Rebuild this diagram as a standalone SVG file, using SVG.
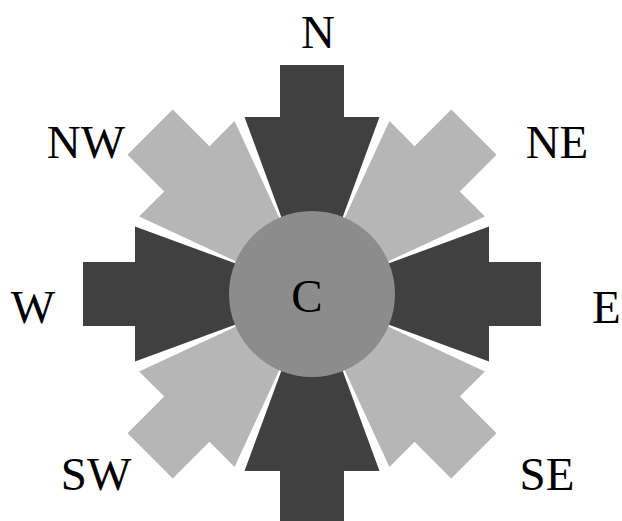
<svg xmlns="http://www.w3.org/2000/svg" xmlns:xlink="http://www.w3.org/1999/xlink" width="622" height="521" viewBox="0 0 622 521">
<style>
.dark{fill:#404040}
.light{fill:#b6b6b6}
.hub{fill:#8c8c8c}
.lbl{font-family:"Liberation Serif","Times New Roman",serif;font-size:47px;fill:#000}
</style>
<defs>
<polygon id="arrow" points="-32,-229 32,-229 32,-177 67.5,-177 24.5,-60 -24.5,-60 -67.5,-177 -32,-177"/>
</defs>
<rect width="622" height="521" fill="#fff"/>
<g transform="translate(312,294)">
<g id="N"><use xlink:href="#arrow" class="dark"/></g>
<g id="NE"><use xlink:href="#arrow" class="light" transform="rotate(45)"/></g>
<g id="E"><use xlink:href="#arrow" class="dark" transform="rotate(90)"/></g>
<g id="SE"><use xlink:href="#arrow" class="light" transform="rotate(135)"/></g>
<g id="S"><use xlink:href="#arrow" class="dark" transform="rotate(180)"/></g>
<g id="SW"><use xlink:href="#arrow" class="light" transform="rotate(225)"/></g>
<g id="W"><use xlink:href="#arrow" class="dark" transform="rotate(270)"/></g>
<g id="NW"><use xlink:href="#arrow" class="light" transform="rotate(315)"/></g>
</g>
<g id="C">
<circle cx="312" cy="294" r="83" class="hub"/>
<text x="307" y="312" class="lbl" text-anchor="middle">C</text>
</g>
<g id="labels">
<text x="318" y="48" class="lbl" text-anchor="middle">N</text>
<text x="86" y="158" class="lbl" text-anchor="middle">NW</text>
<text x="557" y="158" class="lbl" text-anchor="middle">NE</text>
<text x="33" y="323" class="lbl" text-anchor="middle">W</text>
<text x="592" y="323" class="lbl">E</text>
<text x="96" y="490" class="lbl" text-anchor="middle">SW</text>
<text x="547" y="490" class="lbl" text-anchor="middle">SE</text>
</g>
<g id="connectors"/>
</svg>
